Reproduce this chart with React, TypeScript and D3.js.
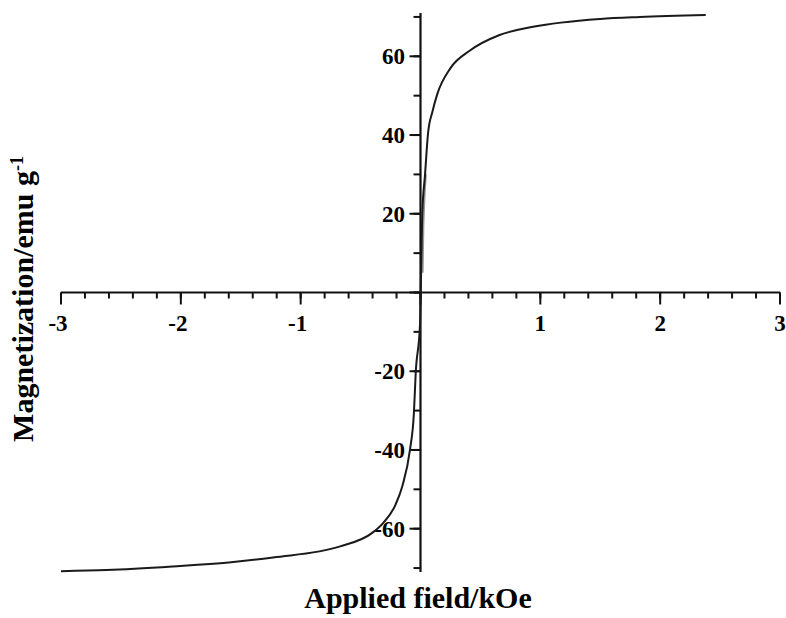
import React, { useEffect, useRef } from "react";
import * as d3 from "d3";

// magnetization loop (field in kOe, M in emu/g)
const fieldKOe = [-3.0, -2.62, -2.07, -1.6, -1.23, -0.67, -0.4, -0.31, -0.21, -0.15, -0.088, -0.055, -0.04, -0.004, 0.002, 0.008, 0.015, 0.038, 0.063, 0.1, 0.14, 0.25, 0.41, 0.66, 0.94, 1.5, 1.83, 2.38];
const magnetization = [-70.8, -70.5, -69.6, -68.6, -67.3, -64.5, -61, -58.5, -54, -49, -40, -30.6, -20.5, -8, 0, 10, 20, 30, 40.5, 46, 50.4, 57, 61.4, 65.4, 67.5, 69.5, 70, 70.5];

// faint second branch close to the origin
const branchField = [0.018, 0.022, 0.03, 0.045];
const branchM = [5, 14, 22, 30];

const xMajor = [-3, -2, -1, 0, 1, 2, 3];
const yMajor = [-60, -40, -20, 0, 20, 40, 60];

const W = 786;
const H = 618;

export default function App() {
  const ref = useRef<SVGSVGElement>(null);

  useEffect(() => {
    const svg = d3.select(ref.current);
    svg.selectAll("*").remove();

    const x = d3.scaleLinear().domain([-3, 3]).range([61, 780]);
    const y = d3.scaleLinear().domain([-71, 71]).range([572, 13]);
    const x0 = x(0);
    const y0 = y(0);
    const font = "'Liberation Serif', 'Times New Roman', serif";

    // x axis through the origin
    const gx = svg.append("g");
    gx.append("line")
      .attr("x1", x(-3)).attr("x2", x(3))
      .attr("y1", y0).attr("y2", y0)
      .attr("stroke", "#111").attr("stroke-width", 2.2);
    const xMinor = d3.range(-3, 3.001, 0.2).map(v => Math.round(v * 10) / 10);
    gx.selectAll(".minor")
      .data(xMinor)
      .enter().append("line")
      .attr("x1", d => x(d)).attr("x2", d => x(d))
      .attr("y1", y0).attr("y2", y0 + 6)
      .attr("stroke", "#111").attr("stroke-width", 2);
    gx.selectAll(".major")
      .data(xMajor)
      .enter().append("line")
      .attr("x1", d => x(d)).attr("x2", d => x(d))
      .attr("y1", y0).attr("y2", y0 + 12)
      .attr("stroke", "#111").attr("stroke-width", 2);
    gx.selectAll("text")
      .data(xMajor.filter(d => d !== 0))
      .enter().append("text")
      .attr("x", d => x(d) - (d < 0 ? 3 : 0))
      .attr("y", 331)
      .attr("text-anchor", "middle")
      .style("font-family", font)
      .style("font-weight", "bold")
      .style("font-size", "23px")
      .text(d => d);

    // y axis through the origin
    const gy = svg.append("g");
    gy.append("line")
      .attr("x1", x0).attr("x2", x0)
      .attr("y1", y(-71)).attr("y2", y(71))
      .attr("stroke", "#111").attr("stroke-width", 2.2);
    const yMinor = d3.range(-70, 71, 10);
    gy.selectAll(".minor")
      .data(yMinor)
      .enter().append("line")
      .attr("x1", x0 - 7).attr("x2", x0)
      .attr("y1", d => y(d)).attr("y2", d => y(d))
      .attr("stroke", "#111").attr("stroke-width", 2);
    gy.selectAll(".major")
      .data(yMajor)
      .enter().append("line")
      .attr("x1", x0 - 11).attr("x2", x0)
      .attr("y1", d => y(d)).attr("y2", d => y(d))
      .attr("stroke", "#111").attr("stroke-width", 2);
    gy.selectAll("text")
      .data(yMajor.filter(d => d !== 0))
      .enter().append("text")
      .attr("x", 405)
      .attr("y", d => y(d))
      .attr("dy", "0.35em")
      .attr("text-anchor", "end")
      .style("font-family", font)
      .style("font-weight", "bold")
      .style("font-size", "23px")
      .text(d => d);

    // curves
    const line = d3.line<[number, number]>()
      .x(d => x(d[0]))
      .y(d => y(d[1]))
      .curve(d3.curveMonotoneX);

    svg.append("path")
      .datum(branchField.map((f, i) => [f, branchM[i]] as [number, number]))
      .attr("d", line)
      .attr("fill", "none")
      .attr("stroke", "#999")
      .attr("stroke-width", 2);

    svg.append("path")
      .datum(fieldKOe.map((f, i) => [f, magnetization[i]] as [number, number]))
      .attr("d", line)
      .attr("fill", "none")
      .attr("stroke", "#1a1a1a")
      .attr("stroke-width", 2);

    // axis titles
    svg.append("text")
      .attr("x", 418)
      .attr("y", 608)
      .attr("text-anchor", "middle")
      .style("font-family", font)
      .style("font-weight", "bold")
      .style("font-size", "30px")
      .text("Applied field/kOe");

    const yt = svg.append("text")
      .attr("transform", "translate(33,299) rotate(-90)")
      .attr("text-anchor", "middle")
      .style("font-family", font)
      .style("font-weight", "bold")
      .style("font-size", "30px");
    yt.append("tspan").text("Magnetization/emu g");
    yt.append("tspan")
      .attr("dy", "-0.55em")
      .style("font-size", "18px")
      .text("-1");
  }, []);

  return (
    <div style={{ position: "absolute", left: 0, top: 0 }}>
      <svg ref={ref} width={W} height={H} style={{ display: "block", background: "#fff" }} />
    </div>
  );
}
